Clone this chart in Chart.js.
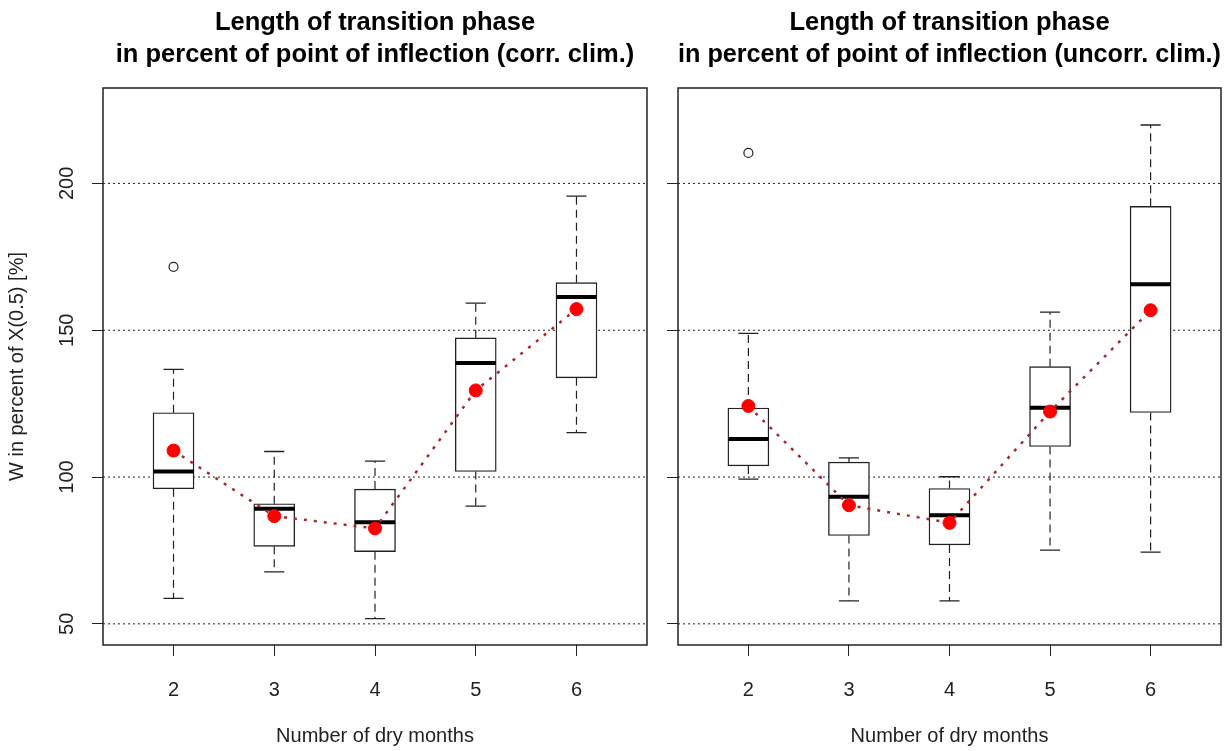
<!DOCTYPE html>
<html>
<head>
<meta charset="utf-8">
<script src="https://cdn.jsdelivr.net/npm/chart.js@4"></script>
<style>
  html, body { margin: 0; padding: 0; background: #fff; overflow: hidden; }
  #left { position: absolute; left: 0; top: 0; }
  #right { position: absolute; left: 660px; top: 0; }
</style>
</head>
<body>
<canvas id="left" width="660" height="751"></canvas>
<canvas id="right" width="571" height="751"></canvas>
<script>
// number of dry months (x axis)
const months = [2, 3, 4, 5, 6];
const yTicks = [50, 100, 150, 200];
const refLines = [50, 100, 150, 200];

// corrected climate
const corrLower  = [58.7, 67.7, 51.8, 90.1, 115.1];
const corrQ1     = [96.0, 76.4, 74.6, 101.9, 133.8];
const corrMedian = [101.9, 89.2, 84.6, 138.8, 161.3];
const corrQ3     = [121.9, 90.9, 95.9, 147.4, 166.2];
const corrUpper  = [136.7, 108.7, 105.4, 159.2, 195.7];
const corrMean   = [109.0, 86.7, 82.5, 129.5, 157.2];
const corrOutX   = [2];
const corrOutY   = [171.6];

// uncorrected climate
const uncLower  = [99.3, 57.8, 57.8, 75.1, 74.4];
const uncQ1     = [103.8, 80.1, 76.9, 110.4, 122.0];
const uncMedian = [113.0, 93.3, 87.0, 123.6, 165.7];
const uncQ3     = [123.5, 105.1, 96.1, 137.6, 192.2];
const uncUpper  = [148.9, 106.5, 100.1, 156.2, 219.9];
const uncMean   = [124.2, 90.4, 84.4, 122.3, 156.8];
const uncOutX   = [2];
const uncOutY   = [210.4];

Chart.defaults.font.family = "'Liberation Sans', Arial, sans-serif";
Chart.defaults.color = '#222';

const XMIN = 1.3, XMAX = 6.7, YMIN = 42.8, YMAX = 232.5;
const BOX_HALF = 0.2, CAP_HALF = 0.1;

// segment list -> points with a gap after each segment
function segs(list) {
  const out = [];
  list.forEach(s => out.push({x: s[0], y: s[1]}, {x: s[2], y: s[3]}, {x: s[2], y: null}));
  return out;
}

// box() around the plot region
const frame = {
  id: 'frame',
  afterDatasetsDraw(chart) {
    const {ctx, chartArea: a} = chart;
    ctx.save();
    ctx.strokeStyle = '#222';
    ctx.lineWidth = 1.5;
    ctx.strokeRect(a.left, a.top, a.right - a.left, a.bottom - a.top);
    ctx.restore();
  }
};

function makeChart(id, title, d, showY, padRight, yWidth) {
  const whisk = [], caps = [], meds = [];
  months.forEach((m, i) => {
    whisk.push([m, d.q3[i], m, d.upper[i]], [m, d.q1[i], m, d.lower[i]]);
    caps.push([m - CAP_HALF, d.upper[i], m + CAP_HALF, d.upper[i]],
              [m - CAP_HALF, d.lower[i], m + CAP_HALF, d.lower[i]]);
    meds.push([m - BOX_HALF, d.median[i], m + BOX_HALF, d.median[i]]);
  });
  const refs = refLines.map(v => [XMIN, v, XMAX, v]);

  return new Chart(document.getElementById(id), {
    type: 'scatter',
    data: {
      datasets: [
        { type: 'line', data: segs(refs), borderColor: '#222', borderWidth: 1, borderDash: [2, 3],
          pointRadius: 0, spanGaps: false, order: 9 },
        { type: 'line', data: segs(whisk), borderColor: '#222', borderWidth: 1.2, borderDash: [8, 5],
          pointRadius: 0, spanGaps: false, order: 8 },
        { type: 'line', data: segs(caps), borderColor: '#222', borderWidth: 1.3,
          pointRadius: 0, spanGaps: false, order: 8 },
        { type: 'bar', data: months.map((m, i) => ({x: m, y: [d.q1[i], d.q3[i]]})),
          backgroundColor: '#fff', borderColor: '#222', borderWidth: 1.4, borderSkipped: false,
          barThickness: 41, order: 7 },
        { type: 'line', data: segs(meds), borderColor: '#000', borderWidth: 4, borderCapStyle: 'butt',
          pointRadius: 0, spanGaps: false, order: 6 },
        { type: 'scatter', data: d.outX.map((x, i) => ({x, y: d.outY[i]})), pointRadius: 4.5,
          pointBackgroundColor: '#fff', pointBorderColor: '#222', pointBorderWidth: 1.2, order: 5 },
        { type: 'line', data: months.map((m, i) => ({x: m, y: d.mean[i]})),
          borderColor: '#a52a2a', borderWidth: 2.5, borderDash: [3, 7],
          pointRadius: 6.5, pointBackgroundColor: 'red', pointBorderColor: 'red', pointBorderWidth: 1, order: 1 }
      ]
    },
    options: {
      responsive: false,
      animation: false,
      devicePixelRatio: 1,
      layout: { padding: { left: 0, right: padRight, top: 0, bottom: 0 } },
      plugins: {
        legend: { display: false },
        tooltip: { enabled: false },
        title: {
          display: true, text: title, fullSize: false, color: '#000',
          font: { size: 25.5, weight: 'bold', lineHeight: 1.25 },
          padding: { top: 7, bottom: 17.25 }
        }
      },
      scales: {
        x: {
          type: 'linear', min: XMIN, max: XMAX, offset: false,
          afterBuildTicks: s => { s.ticks = months.map(v => ({value: v})); },
          afterFit: s => { s.height = 106; },
          grid: { offset: false, drawOnChartArea: false, drawTicks: true, tickLength: 11, tickColor: '#222', tickWidth: 1 },
          border: { display: false },
          ticks: { padding: 22, maxRotation: 0, minRotation: 0, autoSkip: false, font: { size: 20 } },
          title: { display: true, text: 'Number of dry months', font: { size: 20 }, padding: { top: 0, bottom: 3 } }
        },
        y: {
          type: 'linear', min: YMIN, max: YMAX,
          afterBuildTicks: s => { s.ticks = yTicks.map(v => ({value: v})); },
          afterFit: s => { s.width = yWidth; },
          grid: { offset: false, drawOnChartArea: false, drawTicks: true, tickLength: 11, tickColor: '#222', tickWidth: 1 },
          border: { display: false },
          ticks: { display: showY, padding: 8, minRotation: 90, maxRotation: 90, crossAlign: 'center', font: { size: 20 } },
          title: { display: showY, text: 'W in percent of X(0.5) [%]', font: { size: 20 }, padding: { top: 5, bottom: 0 } }
        }
      }
    },
    plugins: [frame]
  });
}

makeChart('left', ['Length of transition phase', 'in percent of point of inflection (corr. clim.)'],
  { lower: corrLower, q1: corrQ1, median: corrMedian, q3: corrQ3, upper: corrUpper, mean: corrMean, outX: corrOutX, outY: corrOutY },
  true, 13, 103);

makeChart('right', ['Length of transition phase', 'in percent of point of inflection (uncorr. clim.)'],
  { lower: uncLower, q1: uncQ1, median: uncMedian, q3: uncQ3, upper: uncUpper, mean: uncMean, outX: uncOutX, outY: uncOutY },
  false, 10, 18);
</script>
</body>
</html>
